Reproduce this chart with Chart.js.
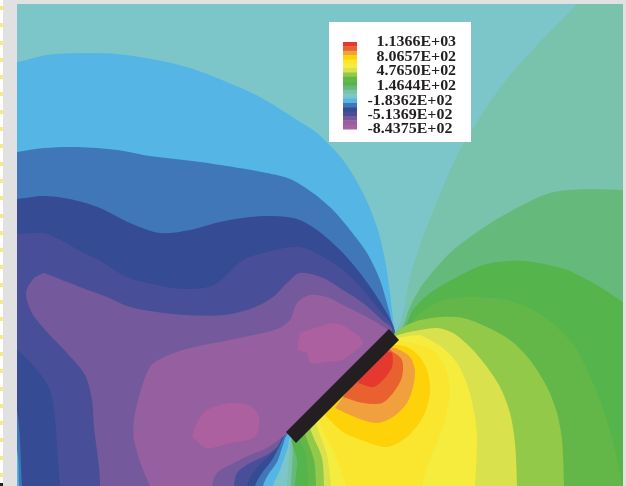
<!DOCTYPE html>
<html><head><meta charset="utf-8">
<style>
html,body{margin:0;padding:0;width:626px;height:486px;overflow:hidden;background:#e1e1e1}
#strip{position:absolute;left:0;top:0;width:3px;height:486px;background:repeating-linear-gradient(to bottom,#fff 0,#fff 6px,#f6ea85 6px,#f6ea85 10px,#fff 10px,#fff 17.3px)}
#mark{position:absolute;left:0;top:483px;width:3px;height:3px;background:#222}
#c{position:absolute;left:17px;top:4px;filter:blur(0.5px)}
</style>
<script src="https://cdn.jsdelivr.net/npm/chart.js@4"></script>
</head><body>
<div id="strip"></div><div id="mark"></div>
<canvas id="c" width="606" height="482"></canvas>
<script>
const legendLabels=["1.1366E+03","8.0657E+02","4.7650E+02","1.4644E+02","-1.8362E+02","-5.1369E+02","-8.4375E+02"];
const legendLabelY=[42.5,57.5,71.5,86.5,101.5,115.5,129.5];
const legendColors=["#e5382f","#e9612f","#f0a03c","#fdd209","#fae62f","#f5ec3e","#d9e24d","#93c949","#62b748","#55b44b","#65ba7b","#79c2ac","#7cc6ca","#55b5e5","#3f77b8","#354b93","#484f98","#745a9c","#965f9f","#ad609f"];
const legendBox=[329,22,471,22,471,142,329,142];
const legendBar=[343,42,357,129];

// Contour outlines, as x,y pairs in picture units.
// Outlines run past the plot edge so the scale limits trim them.
const barUp=[316,412.5,342,386.5,368,360.5];
const barDown=[368,360.5,342,386.5,316,412.5];
const field=[0,-10,640,-10,640,510,0,510];
const warm1=[590,-10,640,-10,640,510,285,510,287,486,290,445,292,437,...barUp,394,334,402,317,410,277,423,237,443,187,460,150,500,88,540,42,577,4];
const warm2=[640,191,640,510,289,510,291,486,293,445,292,437,...barUp,394,334,402,328,410,307,423,284,450,253,480,230,513,210,550,193,587,189,623,190];
const warm3=[640,311,640,510,295,510,295,486,297,460,292,437,...barUp,394,334,403,331,413,310,430,293,457,277,483,265,510,261,533,262,567,270,600,287,623,302];
const warm4=[407,327,420,313,443,300,473,297,507,300,533,310,557,327,577,350,600,400,615,450,622,486,624,510,308,510,308,486,306,455,298,432,...barUp,394,334];
const warm5=[420,320,440,317,463,318,487,327,510,340,530,360,547,387,557,413,562,440,564,486,564,510,316,510,316,486,314,460,304,426,...barUp,394,334,405,326];
const warm6=[420,330,437,328,453,333,470,347,487,367,500,387,510,413,515,443,517,486,517,510,324,510,324,486,322,458,310,420,342,388,368,362,392,338,405,333];
const warm7=[420,335,430,340,443,348,457,363,468,387,475,417,477,440,475,486,474,510,331,510,331,486,327,455,316,414,342,388,368,362,395,340,408,336];
const warm8=[420,345,433,350,445,367,450,390,445,420,437,443,427,467,422,486,418,510,350,510,346,486,335,455,320,416,345,390,370,365,395,342,408,342];
const warm9=[325,415,343,432,367,442,387,447,407,437,423,417,430,393,428,373,420,357,407,347,395,345,380,348,350,377];
const warm10=[335,408,357,418,377,423,393,417,407,403,413,387,415,370,410,357,400,350,392,348,360,375];
const warm11=[343,397,363,403,382,403,393,393,402,377,402,360,393,352,385,348,362,372];
const warm12=[358,383,373,387,383,380,392,367,392,353,388,352,380,350,365,368];

const cool1=[0,63,17,62,47,55,84,53,117,54,157,60,190,68,217,78,260,97,297,120,317,133,343,160,363,193,377,227,385,260,390,293,393,320,394,334,...barDown,290,438,288,447,280,470,273,486,270,510,0,510];
const cool2=[0,154,17,152,44,148,77,147,117,150,150,156,200,162,233,167,267,173,290,179,313,193,333,210,350,230,367,253,380,280,388,307,392,323,394,334,...barDown,287,435,283,445,277,462,268,475,263,486,260,510,21,510,19,486,17,450,5,420,0,400];
const cool3=[0,201,17,199,45,196,74,200,100,208,130,223,160,233,190,230,220,222,250,217,273,216,297,219,317,230,340,250,360,273,377,297,392,323,394,334,...barDown,286,434,280,445,272,460,262,473,255,486,252,510,24,510,22,486,17,410,5,390,0,380];
const cool4=[0,235,17,234,44,233,60,240,84,253,99,260,127,277,157,285,184,289,214,285,243,260,267,252,300,247,323,257,343,270,363,290,382,313,392,325,394,334,...barDown,285,435,277,448,267,458,255,470,247,486,245,510,62,510,60,486,57,447,55,417,50,390,37,370,17,350,0,340];
const cool5=[44,273,57,278,80,287,107,297,130,307,157,312,184,315,224,315,253,308,273,297,287,283,300,273,323,278,343,290,363,303,382,320,392,330,...barDown,285,434,277,447,267,455,250,463,237,473,234,486,233,510,100,510,100,486,99,467,94,427,92,400,85,375,67,353,47,332,32,313,26,293,34,278];
const cool6=[150,486,142,467,134,440,134,420,140,393,150,367,164,357,190,348,230,340,277,329,290,320,297,303,310,295,327,297,347,307,367,317,385,328,390,334,...barDown,284,436,267,448,250,455,234,463,217,473,212,486,210,510,152,510];
const core1=[192,437,197,423,207,410,230,403,250,406,259,417,255,437,230,443,207,448];
const core2=[300,333,315,328,335,323,355,333,363,343,350,355,342,360,325,362,310,363,307,353,298,350];
const plate=[389,329,399,340,296,443,286,432];

const layers=[
 [field,"#7cc6ca"],[warm1,"#79c2ac"],[warm2,"#65ba7b"],[warm3,"#55b44b"],[warm4,"#62b748"],
 [warm5,"#93c949"],[warm6,"#d9e24d"],[warm7,"#f5ec3e"],[warm8,"#fae62f"],[warm9,"#fdd209"],
 [warm10,"#f0a03c"],[warm11,"#e9612f"],[warm12,"#e5382f"],
 [cool1,"#55b5e5"],[cool2,"#3f77b8"],[cool3,"#354b93"],[cool4,"#484f98"],[cool5,"#745a9c"],
 [cool6,"#965f9f"],[core1,"#ad609f"],[core2,"#ad609f"],[plate,"#231f20"],[legendBox,"#ffffff"]
];
const straight=new Set([field,plate,legendBox]);
function pts(a){const o=[];for(let i=0;i<a.length;i+=2)o.push({x:a[i],y:a[i+1]});o.push({x:a[0],y:a[1]});return o;}
const polys=layers.map(([a,col])=>[a,col,straight.has(a)?0:0.3]);
legendColors.forEach((col,i)=>{
  const [x0,y0,x1,y1]=legendBar,h=(y1-y0)/legendColors.length;
  const ya=y0+i*h,yb=ya+h+0.5;
  polys.push([[x0,ya,x1,ya,x1,yb,x0,yb],col,0]);
});
// Chart.js paints the first dataset last, so the list is reversed to keep painter's order
const datasets=polys.map(([a,col,t])=>({data:pts(a),showLine:true,fill:'shape',backgroundColor:col,borderColor:col,borderWidth:0,pointRadius:0,tension:t,capBezierPoints:false})).reverse();
const labelPlugin={id:'legendLabels',afterDatasetsDraw(chart){
  const {ctx,scales:{x,y}}=chart;
  ctx.save();
  ctx.font='bold 14px "Liberation Serif"';
  ctx.fillStyle='#231f20';ctx.textAlign='left';ctx.textBaseline='middle';
  legendLabels.forEach((t,i)=>{
    const neg=t.startsWith('-');
    ctx.save();
    ctx.translate(x.getPixelForValue(neg?367.5:376.5),y.getPixelForValue(legendLabelY[i]));
    ctx.scale(1.14,1);
    ctx.fillText(t,0,0);
    ctx.restore();
  });
  ctx.restore();
}};
new Chart(document.getElementById('c'),{
  type:'scatter',
  data:{datasets},
  plugins:[labelPlugin],
  options:{responsive:false,animation:false,
    layout:{padding:0},
    plugins:{legend:{display:false},tooltip:{enabled:false},title:{display:false}},
    scales:{x:{type:'linear',min:17,max:623,display:false},y:{type:'linear',min:4,max:486,reverse:true,display:false}}
  }
});
</script>
</body></html>
